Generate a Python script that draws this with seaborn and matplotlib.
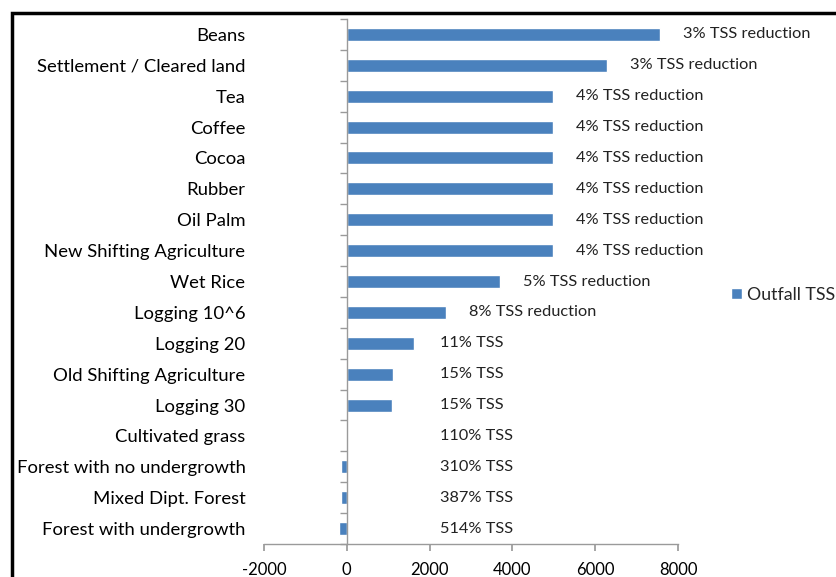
import matplotlib
matplotlib.use("Agg")
import matplotlib.pyplot as plt
import seaborn as sns
import pandas as pd
from matplotlib.patches import Rectangle

# values
categories = ["Beans", "Settlement / Cleared land", "Tea", "Coffee", "Cocoa", "Rubber",
              "Oil Palm", "New Shifting Agriculture", "Wet Rice", "Logging 10^6",
              "Logging 20", "Old Shifting Agriculture", "Logging 30", "Cultivated grass",
              "Forest with no undergrowth", "Mixed Dipt. Forest", "Forest with undergrowth"]
outfall_tss = [7560, 6280, 4980, 4980, 4980, 4980, 4980, 4980, 3700, 2400,
               1620, 1110, 1100, 0, -150, -150, -180]
bar_labels = ["3% TSS reduction", "3% TSS reduction", "4% TSS reduction", "4% TSS reduction",
              "4% TSS reduction", "4% TSS reduction", "4% TSS reduction", "4% TSS reduction",
              "5% TSS reduction", "8% TSS reduction", "11% TSS", "15% TSS", "15% TSS",
              "110% TSS", "310% TSS", "387% TSS", "514% TSS"]
x_ticks = [-2000, 0, 2000, 4000, 6000, 8000]
series_name = "Outfall TSS"

df = pd.DataFrame({"category": categories, "value": outfall_tss, "series": series_name})

sns.set_theme(style="white")
plt.rcParams["font.family"] = ["Lato", "DejaVu Sans"]

fig = plt.figure(figsize=(8.37, 5.77), dpi=100)
ax = fig.add_axes([264 / 837, 1 - 544 / 577, (678 - 264) / 837, (544 - 19) / 577])

sns.barplot(data=df, x="value", y="category", hue="series", palette=["#4a81bd"],
            orient="h", width=0.42, dodge=False, ax=ax, saturation=1)

ax.set_xlim(-2000, 8000)
ax.set_ylim(16.5, -0.5)
ax.set_xticks(x_ticks)
ax.set_xticklabels([str(t) for t in x_ticks], fontsize=12)
ax.set_xlabel("")
ax.set_ylabel("")

# data labels, placed just past the bar end
for i, (v, lab) in enumerate(zip(outfall_tss, bar_labels)):
    ax.text(max(v + 550, 2250), i, lab, va="center", ha="left", fontsize=11.8, color="#222222")

# axis styling like the spreadsheet chart
for s in ["top", "right"]:
    ax.spines[s].set_visible(False)
ax.spines["left"].set_position(("data", 0))
for s in ["left", "bottom"]:
    ax.spines[s].set_color("#9a9a9a")
    ax.spines[s].set_linewidth(1)

ax.tick_params(axis="x", direction="out", length=5, color="#9a9a9a", bottom=True,
               labelcolor="black", pad=8)
ax.tick_params(axis="y", which="major", length=0, pad=73, labelsize=13.3, labelcolor="black")
ax.set_yticks([i + 0.5 for i in range(-1, len(categories))], minor=True)
ax.tick_params(axis="y", which="minor", direction="out", length=5, color="#9a9a9a", left=True)
for lab in ax.get_yticklabels():
    lab.set_horizontalalignment("right")

leg = ax.legend(loc="center left", bbox_to_anchor=(731 / 837, 1 - 295 / 577),
                bbox_transform=fig.transFigure, frameon=False, fontsize=12.8,
                borderpad=0, borderaxespad=0,
                handlelength=0.6, handleheight=0.6, handletextpad=0.3, title=None)

# black frame around the chart (right and bottom edges fall outside the crop)
fig.patches.append(Rectangle((12 / 837, -0.1), 1.1, 1.1 - 13 / 577, transform=fig.transFigure,
                             fill=False, edgecolor="black", linewidth=2.5, clip_on=False))

fig.savefig("out.png", dpi=100, facecolor="white")
